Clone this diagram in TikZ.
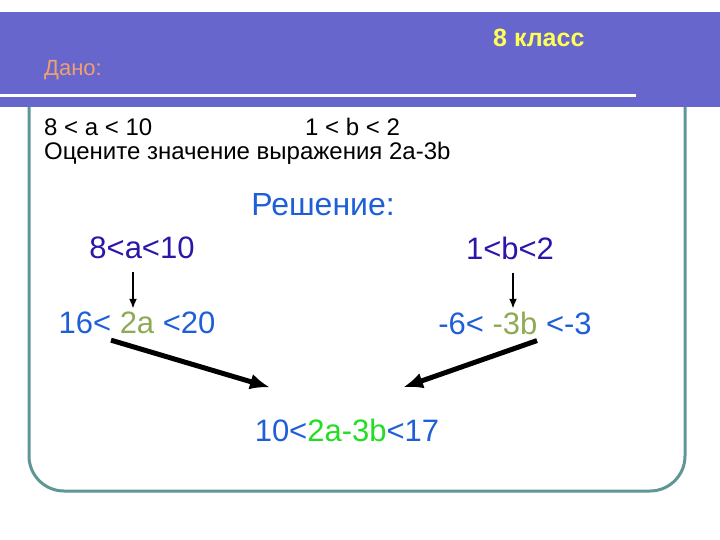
\documentclass[tikz,border=0pt]{standalone}
\usepackage{fontspec}
\setmainfont{Liberation Sans}
\usepackage{xcolor}
\usetikzlibrary{shapes,arrows,arrows.meta}
\definecolor{bandcol}{HTML}{6666CC}
\definecolor{framecol}{HTML}{5F9696}
\definecolor{klasscol}{HTML}{FFFF55}
\definecolor{danocol}{HTML}{F0A070}
\definecolor{bluecol}{HTML}{1E5FD8}
\definecolor{indigocol}{HTML}{2A16A8}
\definecolor{olivecol}{HTML}{8FAA55}
\definecolor{greencol}{HTML}{22DD22}
\tikzset{given/.style = {anchor=west,inner sep=0pt,font=\fontsize{24}{28}\selectfont}}
\tikzset{big/.style = {inner sep=0pt,font=\fontsize{31}{35}\selectfont}}
\tikzset{thinedge/.style = {-{Latex[length=10pt,width=8pt]},line width=2pt}}
\tikzset{thickedge/.style = {-{Latex[length=20pt,width=16pt]},line width=5pt}}

\begin{document}
\begin{tikzpicture}[x=1pt,y=-1pt]
		\useasboundingbox (0,0) rectangle (720,540);
		% frame and header
		\draw[framecol,line width=3pt,rounded corners=35pt] (29,60) rectangle (685,491);
		\fill[bandcol] (0,12) rectangle (720,107);
		\draw[white,line width=3pt] (0,96) -- (636,96);
		% texts
		\node[anchor=west,inner sep=0pt,text=klasscol,font=\fontsize{25}{29}\selectfont\bfseries] (klass) at (493,38) {8 класс};
		\node[anchor=west,inner sep=0pt,text=danocol,font=\fontsize{22}{26}\selectfont] (dano) at (44,70) {Дано:};
		\node[given] (conda) at (44,127) {8 < a < 10};
		\node[given] (condb) at (305,127) {1 < b < 2};
		\node[given] (task) at (44,153) {Оцените значение выражения 2а-3b};
		\node[big,text=bluecol,font=\fontsize{32}{36}\selectfont] (resh) at (323,205) {Решение:};
		\node[big,text=indigocol] (ina) at (142,248) {8<a<10};
		\node[big,text=indigocol] (inb) at (510,248) {1<b<2};
		\node[big] (twoa) at (137,323) {\textcolor{bluecol}{16<} \textcolor{olivecol}{2a} \textcolor{bluecol}{<20}};
		\node[big] (threeb) at (515,323) {\textcolor{bluecol}{-6<} \textcolor{olivecol}{-3b} \textcolor{bluecol}{<-3}};
		\node[big] (res) at (347,430) {\textcolor{bluecol}{10<}\textcolor{greencol}{2a-3b}\textcolor{bluecol}{<17}};
		%edges
		\draw[thinedge] ([xshift=-9pt,yshift=-13pt]ina.south) -- ([xshift=-9pt,yshift=3pt]ina.south |- twoa.north);
		\draw[thinedge] ([xshift=3pt,yshift=-13pt]inb.south) -- ([xshift=3pt,yshift=3pt]inb.south |- twoa.north);
		\draw[thickedge] ([xshift=-26pt,yshift=-6pt]twoa.south) -- ([xshift=-77pt,yshift=31pt]res.north);
		\draw[thickedge] ([xshift=22pt,yshift=-6pt]threeb.south) -- ([xshift=56pt,yshift=31pt]res.north);
	\end{tikzpicture}
\end{document}
